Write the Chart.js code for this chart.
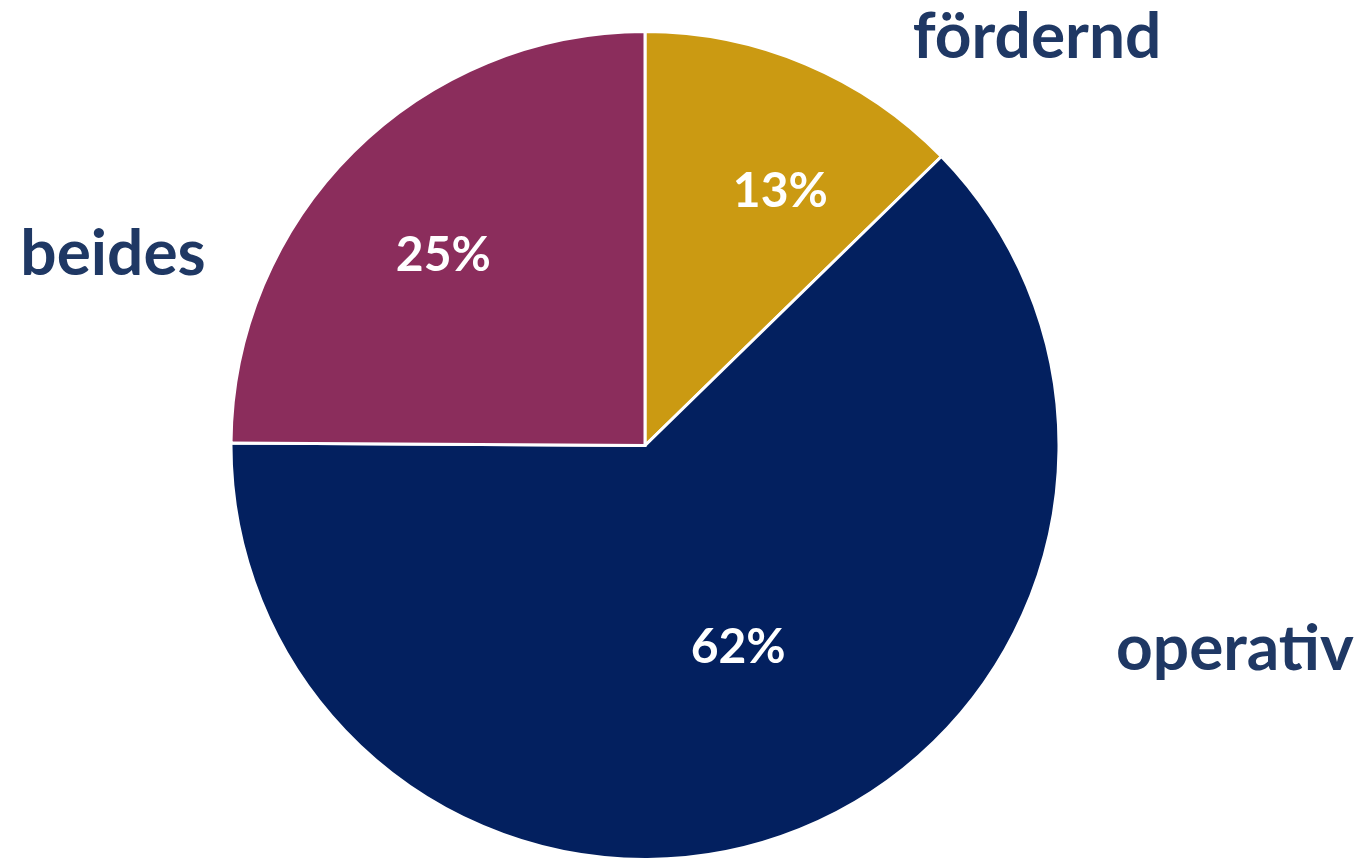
<!DOCTYPE html>
<html>
<head>
<meta charset="utf-8">
<script src="https://cdn.jsdelivr.net/npm/chart.js@4"></script>
<style>
  html, body { margin: 0; padding: 0; background: #ffffff; }
  #wrap { width: 1361px; height: 861px; }
</style>
</head>
<body>
<div id="wrap"><canvas id="chart"></canvas></div>
<script>
// Chart data
const categories = ["fördernd", "operativ", "beides"];
const shares = [12.7, 62.4, 24.9];
const sliceColors = ["#CB9A12", "#03205F", "#8B2D5C"];

// label placement, relative to the pie centre in units of the radius
const pctOffset = [[0.327, -0.613], [0.225, 0.487], [-0.487, -0.46]];
const nameOffset = [[0.947, -0.986], [1.425, 0.493], [-1.285, -0.461]];

const labelFont = "bold 64px Lato";
const pctFont = "bold 48px Lato";

// Draw percentage and category labels after the slices
const pieLabels = {
  id: "pieLabels",
  afterDatasetsDraw(chart) {
    const ctx = chart.ctx;
    const arcs = chart.getDatasetMeta(0).data;
    const total = shares.reduce((a, b) => a + b, 0);
    ctx.save();
    ctx.textAlign = "center";
    ctx.textBaseline = "middle";
    arcs.forEach((arc, i) => {
      const { x, y, outerRadius } = arc.getProps(["x", "y", "outerRadius"], true);
      ctx.fillStyle = "#ffffff";
      ctx.font = pctFont;
      ctx.fillText(Math.round(shares[i] / total * 100) + "%",
        x + pctOffset[i][0] * outerRadius, y + pctOffset[i][1] * outerRadius);

      ctx.fillStyle = "#1F3864";
      ctx.font = labelFont;
      ctx.fillText(categories[i], x + nameOffset[i][0] * outerRadius, y + nameOffset[i][1] * outerRadius);
    });
    ctx.restore();
  }
};

const chart = new Chart(document.getElementById("chart"), {
  type: "pie",
  data: {
    labels: categories,
    datasets: [{
      data: shares,
      backgroundColor: sliceColors,
      borderColor: "#ffffff",
      borderWidth: 3,
      borderJoinStyle: "miter"
    }]
  },
  options: {
    responsive: true,
    maintainAspectRatio: false,
    animation: false,
    layout: { padding: { top: 30, bottom: 0, left: 0, right: 71 } },
    plugins: {
      legend: { display: false },
      tooltip: { enabled: false }
    }
  },
  plugins: [pieLabels]
});
</script>
</body>
</html>
